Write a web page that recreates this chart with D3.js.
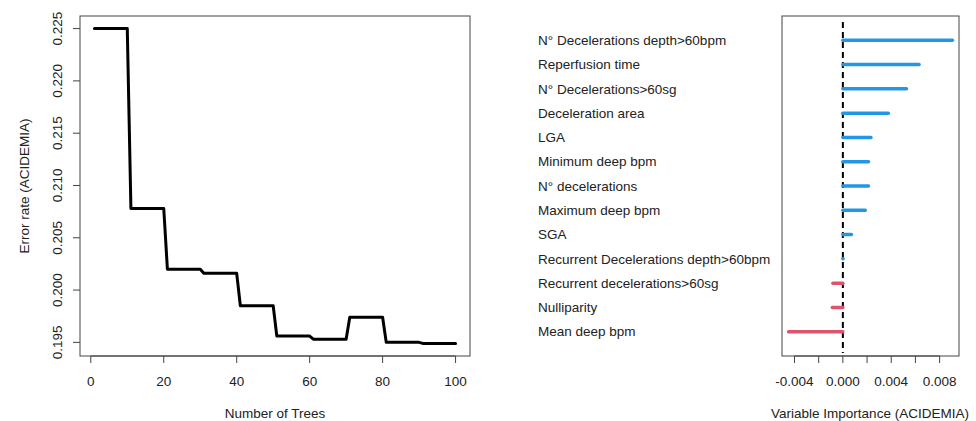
<!DOCTYPE html>
<html>
<head>
<meta charset="utf-8">
<script src="https://cdn.jsdelivr.net/npm/d3@7"></script>
<style>
  body { margin: 0; background: #fff; }
  svg { display: block; font-family: "Liberation Sans", Arial, sans-serif; }
</style>
</head>
<body>
<div id="chart"></div>
<script>
/* ---------- data ---------- */
// error rate of the forest (steps every 10 trees)
const treeCounts = [1, 10, 11, 20, 21, 30, 31, 40, 41, 50, 51, 60, 61, 70, 71, 80, 81, 90, 91, 100];
const errorRates = [0.2250, 0.2250, 0.2078, 0.2078, 0.2020, 0.2020, 0.2016, 0.2016, 0.1985, 0.1985,
                    0.1956, 0.1956, 0.1953, 0.1953, 0.1974, 0.1974, 0.1950, 0.1950, 0.1949, 0.1949];
const treeTicks = [0, 20, 40, 60, 80, 100];
const errorTicks = [0.195, 0.200, 0.205, 0.210, 0.215, 0.220, 0.225];

// variable importance
const variables = [
  "N° Decelerations depth>60bpm",
  "Reperfusion time",
  "N° Decelerations>60sg",
  "Deceleration area",
  "LGA",
  "Minimum deep bpm",
  "N° decelerations",
  "Maximum deep bpm",
  "SGA",
  "Recurrent Decelerations depth>60bpm",
  "Recurrent decelerations>60sg",
  "Nulliparity",
  "Mean deep bpm"
];
const importance = [0.00906, 0.00630, 0.00526, 0.00376, 0.00232, 0.00212, 0.00212, 0.00185, 0.00071,
                    0.00002, -0.00082, -0.00087, -0.00449];
const importanceTicks = [-0.004, -0.002, 0, 0.002, 0.004, 0.006, 0.008];
const importanceLabels = [-0.004, 0, 0.004, 0.008];

/* ---------- setup ---------- */
const width = 976, height = 421;
const fontSize = 13.5;
const textColor = "#222";
const axisColor = "#444";
const tickLen = 7;

const svg = d3.select("#chart").append("svg")
  .attr("width", width)
  .attr("height", height);

/* ---------- left: error rate ---------- */
const left = { x0: 80, x1: 470, y0: 16, y1: 356 };

const pad = (ext, f = 0.04) => {
  const r = ext[1] - ext[0];
  return [ext[0] - r * f, ext[1] + r * f];
};

const xTrees = d3.scaleLinear()
  .domain(pad(d3.extent(treeCounts)))
  .range([left.x0, left.x1]);

const yErr = d3.scaleLinear()
  .domain(pad(d3.extent(errorRates)))
  .range([left.y1, left.y0]);

const gL = svg.append("g");

gL.append("rect")
  .attr("x", left.x0).attr("y", left.y0)
  .attr("width", left.x1 - left.x0).attr("height", left.y1 - left.y0)
  .attr("fill", "none").attr("stroke", axisColor).attr("stroke-width", 1);

// x axis
gL.append("line")
  .attr("x1", xTrees(treeTicks[0])).attr("x2", xTrees(treeTicks[treeTicks.length - 1]))
  .attr("y1", left.y1).attr("y2", left.y1)
  .attr("stroke", axisColor);
gL.selectAll("line.xtick")
  .data(treeTicks)
  .join("line")
  .attr("class", "xtick")
  .attr("x1", d => xTrees(d)).attr("x2", d => xTrees(d))
  .attr("y1", left.y1).attr("y2", left.y1 + tickLen)
  .attr("stroke", axisColor);
gL.selectAll("text.xlab")
  .data(treeTicks)
  .join("text")
  .attr("class", "xlab")
  .attr("x", d => xTrees(d))
  .attr("y", 386)
  .attr("text-anchor", "middle")
  .attr("font-size", fontSize)
  .attr("fill", textColor)
  .text(d => d);

// y axis
gL.selectAll("line.ytick")
  .data(errorTicks)
  .join("line")
  .attr("class", "ytick")
  .attr("x1", left.x0 - tickLen).attr("x2", left.x0)
  .attr("y1", d => yErr(d)).attr("y2", d => yErr(d))
  .attr("stroke", axisColor);
gL.selectAll("text.ylab")
  .data(errorTicks)
  .join("text")
  .attr("class", "ylab")
  .attr("transform", d => `translate(62, ${yErr(d)}) rotate(-90)`)
  .attr("text-anchor", "middle")
  .attr("font-size", fontSize)
  .attr("fill", textColor)
  .text(d => d.toFixed(3));

gL.append("text")
  .attr("x", (left.x0 + left.x1) / 2)
  .attr("y", 418)
  .attr("text-anchor", "middle")
  .attr("font-size", fontSize)
  .attr("fill", textColor)
  .text("Number of Trees");

gL.append("text")
  .attr("transform", `translate(29, ${(left.y0 + left.y1) / 2}) rotate(-90)`)
  .attr("text-anchor", "middle")
  .attr("font-size", fontSize)
  .attr("fill", textColor)
  .text("Error rate (ACIDEMIA)");

const errLine = d3.line()
  .x((d, i) => xTrees(treeCounts[i]))
  .y(d => yErr(d));

gL.append("path")
  .datum(errorRates)
  .attr("d", errLine)
  .attr("fill", "none")
  .attr("stroke", "#000")
  .attr("stroke-width", 3)
  .attr("stroke-linejoin", "round")
  .attr("stroke-linecap", "round");

/* ---------- right: variable importance ---------- */
const right = { x0: 782, x1: 959, y0: 16, y1: 356 };

const xImp = d3.scaleLinear()
  .domain(pad(d3.extent(importance)))
  .range([right.x0, right.x1]);

const yRow = d3.scaleLinear()
  .domain([0, variables.length + 1])
  .range([right.y0, right.y1]);

const gR = svg.append("g");

gR.append("rect")
  .attr("x", right.x0).attr("y", right.y0)
  .attr("width", right.x1 - right.x0).attr("height", right.y1 - right.y0)
  .attr("fill", "none").attr("stroke", axisColor).attr("stroke-width", 1);

gR.append("line")
  .attr("x1", xImp(importanceTicks[0])).attr("x2", xImp(importanceTicks[importanceTicks.length - 1]))
  .attr("y1", right.y1).attr("y2", right.y1)
  .attr("stroke", axisColor);
gR.selectAll("line.xtick")
  .data(importanceTicks)
  .join("line")
  .attr("class", "xtick")
  .attr("x1", d => xImp(d)).attr("x2", d => xImp(d))
  .attr("y1", right.y1).attr("y2", right.y1 + tickLen)
  .attr("stroke", axisColor);
gR.selectAll("text.xlab")
  .data(importanceLabels)
  .join("text")
  .attr("class", "xlab")
  .attr("x", d => xImp(d))
  .attr("y", 386)
  .attr("text-anchor", "middle")
  .attr("font-size", fontSize)
  .attr("fill", textColor)
  .text(d => d.toFixed(3));

gR.append("text")
  .attr("x", 870)
  .attr("y", 418)
  .attr("text-anchor", "middle")
  .attr("font-size", fontSize)
  .attr("fill", textColor)
  .text("Variable Importance (ACIDEMIA)");

// zero reference line
gR.append("line")
  .attr("x1", xImp(0)).attr("x2", xImp(0))
  .attr("y1", right.y0 + 6).attr("y2", right.y1 - 3)
  .attr("stroke", "#000")
  .attr("stroke-width", 2)
  .attr("stroke-dasharray", "6,4");

// bars
gR.selectAll("line.bar")
  .data(importance)
  .join("line")
  .attr("class", "bar")
  .attr("x1", xImp(0))
  .attr("x2", d => xImp(d))
  .attr("y1", (d, i) => yRow(i + 1))
  .attr("y2", (d, i) => yRow(i + 1))
  .attr("stroke", d => d >= 0 ? "#2297E6" : "#DF536B")
  .attr("stroke-width", 3.5)
  .attr("stroke-linecap", "round");

// labels
gR.selectAll("text.var")
  .data(variables)
  .join("text")
  .attr("class", "var")
  .attr("x", 538)
  .attr("y", (d, i) => yRow(i + 1))
  .attr("dy", "0.35em")
  .attr("font-size", fontSize)
  .attr("fill", textColor)
  .text(d => d);
</script>
</body>
</html>
